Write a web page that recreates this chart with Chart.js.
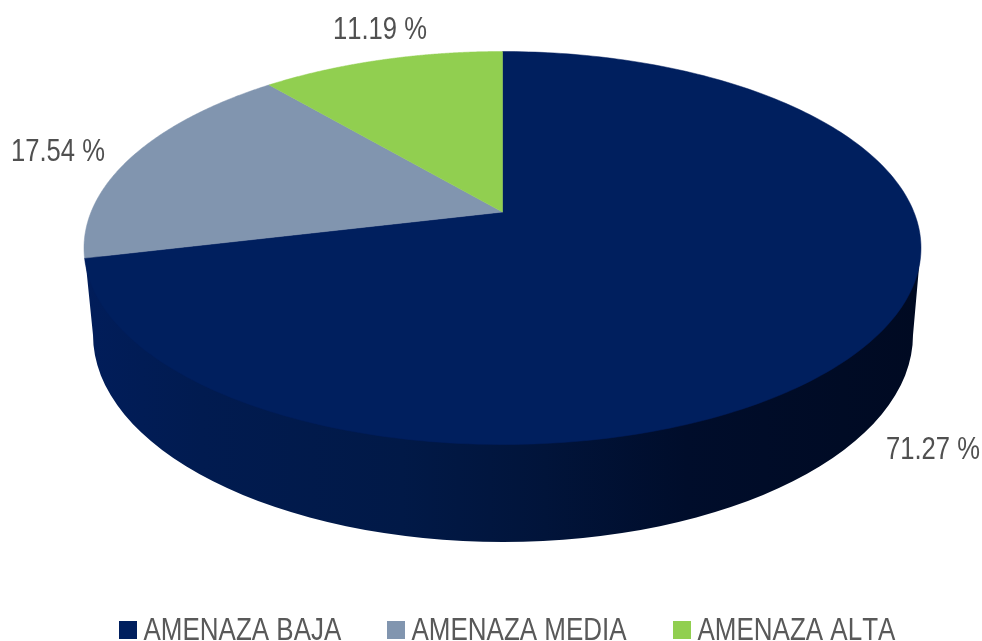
<!DOCTYPE html>
<html><head><meta charset="utf-8">
<script src="https://cdn.jsdelivr.net/npm/chart.js@4"></script>
<style>html,body{margin:0;padding:0;background:#fff;overflow:hidden}#w{position:relative;width:982px;height:641px}canvas{display:block}</style>
</head><body><div id="w"><canvas id="c" width="982" height="641"></canvas></div>
<script>
const categories = ['AMENAZA BAJA', 'AMENAZA MEDIA', 'AMENAZA ALTA'];
const shares = [71.27, 17.54, 11.19];
const sliceColors = ['#001F5E', '#8195AF', '#91CF50'];

const TOP = {cx: 502.5, cy: 248, a: 418.5, b: 196.5, k: 0.183};
const BOTTOM = {cx: 503, cy: 335, a: 410, b: 207};
const FONT = '"Liberation Sans",Arial,sans-serif';

function project(angle) {
  const t = angle + Math.PI / 2, s = Math.sin(t), v = -Math.cos(t), k = TOP.k;
  const d = 1 - k * v;
  return [TOP.cx + TOP.a * s * Math.sqrt(1 - k * k) / d, TOP.cy + TOP.b * (v - k) / d];
}

function squeezedText(ctx, text, x, y, sx) {
  ctx.save();
  ctx.translate(x, y);
  ctx.scale(sx, 1);
  ctx.fillText(text, 0, 0);
  ctx.restore();
}

const pie3d = {
  id: 'pie3d',
  beforeDatasetsDraw(chart) {
    const ctx = chart.ctx, arcs = chart.getDatasetMeta(0).data;
    const g = ctx.createLinearGradient(85, 0, 921, 0);
    g.addColorStop(0, '#011D5A'); g.addColorStop(0.14, '#011B50'); g.addColorStop(0.38, '#011947');
    g.addColorStop(0.55, '#01143A'); g.addColorStop(0.72, '#000D2B'); g.addColorStop(1, '#000A22');
    ctx.save();
    ctx.fillStyle = g;
    ctx.beginPath();
    ctx.moveTo(TOP.cx - TOP.a + 1, TOP.cy + 8);
    ctx.lineTo(BOTTOM.cx - BOTTOM.a, BOTTOM.cy);
    ctx.ellipse(BOTTOM.cx, BOTTOM.cy, BOTTOM.a, BOTTOM.b, 0, Math.PI, 0, true);
    ctx.lineTo(TOP.cx + TOP.a - 1, TOP.cy + 8);
    ctx.closePath();
    ctx.fill();
    arcs.forEach((arc, i) => {
      const steps = 240;
      ctx.beginPath();
      ctx.moveTo(TOP.cx, TOP.cy - TOP.b * TOP.k);
      for (let n = 0; n <= steps; n++) {
        const p = project(arc.startAngle + (arc.endAngle - arc.startAngle) * n / steps);
        ctx.lineTo(p[0], p[1]);
      }
      ctx.closePath();
      ctx.fillStyle = sliceColors[i];
      ctx.strokeStyle = sliceColors[i];
      ctx.lineWidth = 0.5;
      ctx.fill(); ctx.stroke();
    });
    ctx.restore();
    return false;
  },
  afterDraw(chart) {
    const ctx = chart.ctx;
    ctx.save();
    ctx.fontKerning = 'none';
    const spots = [[933, 450], [58, 152], [380, 30]];
    ctx.font = '32px ' + FONT;
    ctx.fillStyle = '#505050';
    ctx.textAlign = 'center';
    ctx.textBaseline = 'middle';
    shares.forEach((v, i) => squeezedText(ctx, v.toFixed(2) + ' %', spots[i][0], spots[i][1], 0.80));
    const boxes = [119, 387, 673];
    ctx.font = '31.5px ' + FONT;
    ctx.textAlign = 'left';
    ctx.textBaseline = 'alphabetic';
    categories.forEach((name, i) => {
      ctx.fillStyle = sliceColors[i];
      ctx.fillRect(boxes[i], 621, 18, 18);
      ctx.fillStyle = '#595959';
      squeezedText(ctx, name, boxes[i] + 24.5, 640, 0.825);
    });
    ctx.restore();
  }
};

new Chart(document.getElementById('c'), {
  type: 'pie',
  data: { labels: categories, datasets: [{ data: shares, backgroundColor: sliceColors, borderWidth: 0 }] },
  options: {
    responsive: false,
    animation: false,
    rotation: 0,
    plugins: { legend: { display: false }, tooltip: { enabled: false } }
  },
  plugins: [pie3d]
});
</script></body></html>
